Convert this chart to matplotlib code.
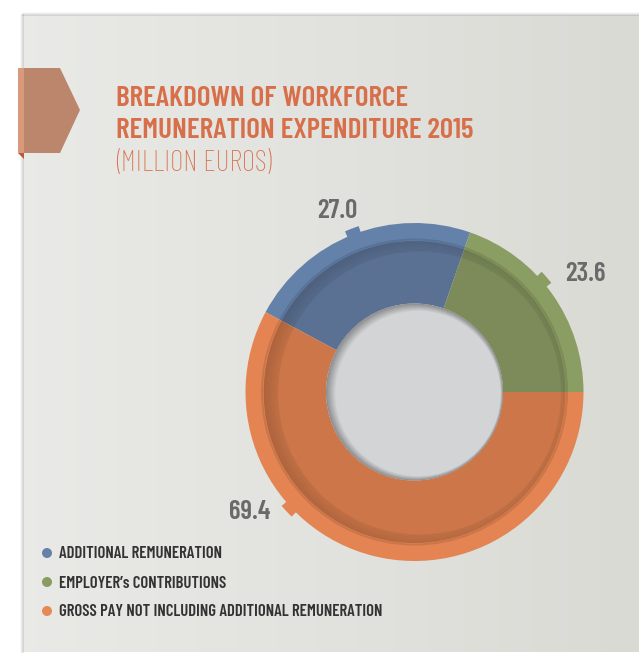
import matplotlib
matplotlib.use("Agg")
import matplotlib.pyplot as plt
import numpy as np
from matplotlib.patches import Polygon, Circle, Wedge, Rectangle

# ---- data ----
categories = ["ADDITIONAL REMUNERATION", "EMPLOYER\u2019s CONTRIBUTIONS",
              "GROSS PAY NOT INCLUDING ADDITIONAL REMUNERATION"]
values = [27.0, 23.6, 69.4]
value_labels = ["27.0", "23.6", "69.4"]

outer_colors = ["#6481A9", "#8A9D62", "#E38452"]
inner_colors = ["#5B7193", "#7C8B59", "#CC7649"]
legend_colors = ["#6680A8", "#899C60", "#E58A55"]

W, H = 639, 655
fig = plt.figure(figsize=(W / 100, H / 100), dpi=100)
ax = fig.add_axes([0, 0, 1, 1])
ax.set_xlim(0, W)
ax.set_ylim(0, H)
ax.axis("off")

def Y(y):  # pixel row -> data y
    return H - y

FONT = ["Barlow Condensed", "Barlow Semi Condensed", "DejaVu Sans"]

# ---- background panel ----
ax.add_patch(Rectangle((0, 0), W, H, color="white", zorder=0))
grad = np.linspace(0, 1, 300)
rgb0 = np.array([0.915, 0.915, 0.905])
rgb1 = np.array([0.855, 0.855, 0.835])
img = rgb0[None, :] * (1 - grad[:, None]) + rgb1[None, :] * grad[:, None]
img = img[None, :, :].repeat(2, axis=0)
ax.imshow(img, extent=(23, W, Y(652), Y(15)), aspect="auto", zorder=1)
for i, a in enumerate([0.10, 0.06, 0.03]):
    ax.plot([23 - i, 23 - i], [Y(652), Y(15)], color="black", alpha=a, lw=1.2, zorder=1.5)
    ax.plot([23, W], [Y(15 - i), Y(15 - i)], color="black", alpha=a, lw=1.2, zorder=1.5)

# ---- title banner ----
ax.add_patch(Polygon([(18, Y(68)), (60, Y(68)), (80, Y(110)), (60, Y(153)), (18, Y(153))],
                     closed=True, facecolor="#BC866D", edgecolor="none", zorder=3))
ax.add_patch(Rectangle((18, Y(153)), 6, 85, facecolor="#D99A7C", edgecolor="none", zorder=3.1))
ax.add_patch(Polygon([(18, Y(153)), (24, Y(153)), (24, Y(159))], closed=True,
                     facecolor="#B8553A", edgecolor="none", zorder=3))

title_color = "#D7704A"
ax.text(116, Y(99), "BREAKDOWN OF WORKFORCE", fontsize=21, fontweight="semibold",
        color=title_color, family=FONT, va="center", ha="left", zorder=4)
ax.text(116, Y(131), "REMUNERATION EXPENDITURE 2015", fontsize=21, fontweight="semibold",
        color=title_color, family=FONT, va="center", ha="left", zorder=4)
ax.text(116, Y(163), "(MILLION EUROS)", fontsize=21, fontweight="light",
        color=title_color, family=FONT, va="center", ha="left", zorder=4)

# ---- donut ----
cx, cy = 414.5, Y(392)
R_out, R_mid, R_in = 169, 152, 88.5
# orange/blue boundary sits at 180 - 28.2 deg; slices run clockwise
start = 180 - 28.2

# label tabs (small steps on the outer edge)
tab_angles = [111, 41, 223]
for ang, c in zip(tab_angles, outer_colors):
    ax.add_patch(Wedge((cx, cy), R_out + 6, ang - 2.4, ang + 2.4, width=10,
                       facecolor=c, edgecolor="none", zorder=4.5))

ax.pie(values, radius=R_out, center=(cx, cy), startangle=start,
       counterclock=False, colors=outer_colors,
       wedgeprops=dict(width=R_out - R_mid + 2, edgecolor="none", zorder=5),
       frame=True)
ax.add_patch(Circle((cx, cy), R_mid + 0.5, facecolor="none", edgecolor="black",
                    lw=1.5, alpha=0.10, zorder=5.5))
ax.pie(values, radius=R_mid - 1, center=(cx, cy), startangle=start,
       counterclock=False, colors=inner_colors,
       wedgeprops=dict(width=R_mid - 1 - R_in, edgecolor="none", zorder=6),
       frame=True)
# inner shadow along outer edge of the dark ring, stronger on the left
clip = Circle((cx, cy), R_mid - 1, transform=ax.transData)
for k in range(12):
    sh = Wedge((cx + 5, cy - 1), R_mid + 4 - k * 1.2, 0, 360, width=1.4,
               facecolor="black", edgecolor="none", alpha=0.05 + 0.012 * (11 - k) * 0.6,
               zorder=6.3)
    ax.add_patch(sh)
    sh.set_clip_path(clip)

# hole with inner shadow
ax.add_patch(Circle((cx, cy), R_in, facecolor="#8E8E90", edgecolor="none", zorder=7))
n = 10
for i in range(n):
    t = (i + 1) / n
    col = np.array([0.56, 0.56, 0.57]) * (1 - t) + np.array([0.83, 0.835, 0.845]) * t
    ax.add_patch(Circle((cx + t * 3.5, cy - t * 1.5), R_in - t * 6,
                        facecolor=col, edgecolor="none", zorder=7 + 0.01 * i))
ax.add_patch(Circle((cx + 3.5, cy - 1.5), R_in - 7, facecolor="#D3D4D6", edgecolor="none", zorder=7.5))

ax.set_xlim(0, W)
ax.set_ylim(0, H)
ax.set_aspect("auto")

# value labels
label_pos = [(337.5, 211), (585, 274), (250, 512)]
for (lx, ly), txt in zip(label_pos, value_labels):
    ax.text(lx, Y(ly), txt, fontsize=19.5, fontweight="semibold", color="#6A6A6A",
            family=FONT, ha="center", va="center", zorder=8)

# legend
leg_y = [553, 582, 611]
for yy, c, name in zip(leg_y, legend_colors, categories):
    ax.add_patch(Circle((47, Y(yy)), 5, facecolor=c, edgecolor="none", zorder=8))
    ax.text(59, Y(yy + 1), name, fontsize=12, fontweight="semibold", color="#333333",
            family=FONT, ha="left", va="center", zorder=8)

fig.savefig("out.png", dpi=100)
